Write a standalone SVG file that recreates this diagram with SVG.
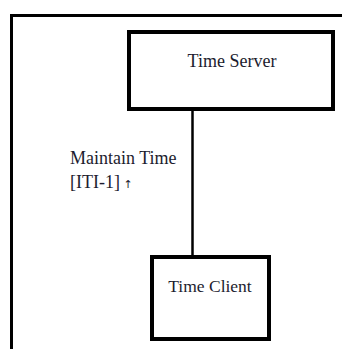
<svg xmlns="http://www.w3.org/2000/svg" width="342" height="349" viewBox="0 0 342 349">
<style>
.box{fill:#fff;stroke:#000;stroke-width:4;}
.t{font-family:"Liberation Serif","Times New Roman",serif;font-size:17.5px;fill:#1c1c2e;}
</style>
<rect width="342" height="349" fill="#fff"/>
<g id="frame"><path d="M11.5,352 V15.5 H345" fill="none" stroke="#000" stroke-width="3"/></g>
<g id="connectors">
<line x1="192.5" y1="109" x2="192.5" y2="257" stroke="#000" stroke-width="2.5"/>
<text class="t" x="70" y="164" font-size="18" style="font-size:18px">Maintain Time</text>
<text class="t" x="70" y="188" style="font-size:18px">[ITI-1]<tspan font-family="DejaVu Sans" style="font-size:11px"> ↑</tspan></text>
</g>
<g id="time-server">
<rect class="box" x="129" y="32" width="204" height="77"/>
<text class="t" x="232" y="67" text-anchor="middle" style="font-size:18px">Time Server</text>
</g>
<g id="time-client">
<rect class="box" x="152" y="257" width="117" height="82"/>
<text class="t" x="210" y="292" text-anchor="middle">Time Client</text>
</g>
</svg>
